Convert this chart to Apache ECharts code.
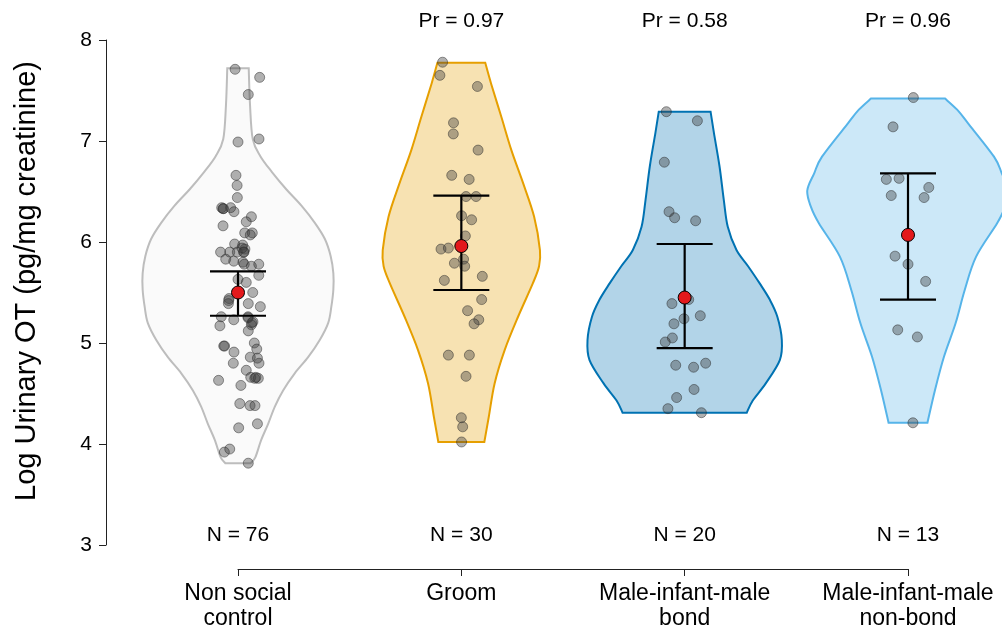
<!DOCTYPE html>
<html><head><meta charset="utf-8">
<script src="https://cdn.jsdelivr.net/npm/echarts@6.0.0/dist/echarts.min.js"></script>
<style>html,body{margin:0;padding:0;background:#fff}#c{width:1002px;height:632px}</style>
</head><body><div id="c"></div>
<script>
const categories = ['Non social\ncontrol', 'Groom', 'Male-infant-male\nbond', 'Male-infant-male\nnon-bond'];
const nLabels = ['N = 76', 'N = 30', 'N = 20', 'N = 13'];
const prLabels = ['', 'Pr = 0.97', 'Pr = 0.58', 'Pr = 0.96'];
const yTicks = [3, 4, 5, 6, 7, 8];

const means = [5.50, 5.96, 5.45, 6.07];
const ciLow = [5.27, 5.525, 4.95, 5.43];
const ciHigh = [5.71, 6.46, 5.98, 6.68];

// observed values and horizontal jitter (in category units)
const g1Values = [7.71,7.63,7.46,6.99,7.02,6.66,6.56,6.44,6.34,6.33,6.34,6.30,6.25,6.20,6.16,6.09,6.09,5.98,5.97,5.90,5.90,5.90,5.93,5.90,5.83,5.81,5.80,5.76,5.78,5.67,5.63,5.60,5.50,5.44,5.39,5.39,5.36,5.26,5.23,5.26,5.21,5.18,5.17,5.12,4.97,5.00,4.94,4.91,4.80,4.86,4.85,4.80,4.73,4.66,4.65,4.65,4.63,4.58,4.40,4.38,4.38,4.16,4.20,3.92,3.95,3.81,6.33,5.90,5.42,5.20,4.97,4.66,5.78,5.94,5.25,6.07];
const g1Jitter = [-0.013,0.097,0.046,0,0.094,-0.009,-0.004,-0.003,-0.073,-0.067,-0.033,-0.018,0.060,0.037,-0.067,0.030,0.064,-0.015,0.021,-0.078,-0.037,-0.003,0.031,0.027,-0.055,-0.019,0.022,0.060,0.093,0.093,0,0.037,0.066,-0.040,-0.043,0.046,0.100,-0.075,-0.019,0.045,0.067,0.060,-0.081,0.046,-0.064,0.073,0.084,-0.018,-0.021,0.055,0.087,0.094,0.037,0.057,0.091,0.075,-0.087,0.013,0.008,0.054,0.076,0.003,0.087,-0.061,-0.037,0.046,-0.065,0.025,-0.042,0.062,-0.060,0.080,0.028,0.018,0.045,0.055];
const g2Values = [7.78,7.65,7.54,7.18,7.07,6.91,6.66,6.62,6.45,6.45,6.26,6.22,6.06,5.93,5.94,5.79,5.83,5.76,5.66,5.62,5.43,5.32,5.23,5.19,4.88,4.88,4.67,4.26,4.17,4.02];
const g2Jitter = [-0.084,-0.096,0.072,-0.035,-0.036,0.075,-0.043,0.035,0.021,0.066,0.001,0.046,0.018,-0.091,-0.058,-0.031,0.010,0.015,0.094,-0.076,0.091,0.028,0.078,0.057,-0.058,0.036,0.021,0,0.006,0.001];
const g3Values = [7.29,7.20,6.79,6.30,6.24,6.21,5.39,5.43,5.27,5.24,5.19,5.05,5.01,4.78,4.76,4.80,4.54,4.46,4.35,4.31];
const g3Jitter = [-0.082,0.057,-0.091,-0.070,-0.045,0.049,-0.057,0.018,0.070,-0.003,-0.048,-0.055,-0.087,-0.040,0.040,0.094,0.042,-0.036,-0.075,0.075];
const g4Values = [7.43,7.14,6.62,6.63,6.54,6.46,6.44,5.86,5.61,5.13,5.06,4.21,5.78];
const g4Jitter = [0.024,-0.067,-0.097,-0.040,0.093,-0.075,0.072,-0.058,0.079,-0.046,0.042,0.022,0];

// violin outlines: density levels (y) and half widths (category units)
const v1Levels = [7.72,7.35,7.02,6.85,6.69,6.52,6.36,6.19,6.03,5.86,5.69,5.53,5.36,5.20,5.03,4.86,4.70,4.53,4.37,4.20,4.04,3.87,3.81];
const v1Width  = [0.048,0.054,0.066,0.100,0.153,0.217,0.284,0.344,0.389,0.415,0.427,0.427,0.418,0.404,0.366,0.314,0.254,0.202,0.165,0.135,0.104,0.078,0.057];
const v2Levels = [7.775,7.57,7.24,6.91,6.58,6.25,5.92,5.76,5.59,5.26,4.93,4.60,4.27,4.02];
const v2Width  = [0.107,0.133,0.179,0.224,0.277,0.326,0.352,0.348,0.320,0.254,0.194,0.149,0.123,0.103];
const v3Levels = [7.29,7.08,6.75,6.42,6.15,5.92,5.76,5.59,5.43,5.26,5.03,4.83,4.60,4.43,4.31];
const v3Width  = [0.116,0.131,0.156,0.175,0.193,0.232,0.284,0.336,0.381,0.415,0.435,0.426,0.363,0.305,0.278];
const v4Levels = [7.42,7.31,7.175,6.845,6.68,6.51,6.35,6.185,5.855,5.525,5.195,4.864,4.535,4.21];
const v4Width  = [0.166,0.220,0.269,0.385,0.420,0.451,0.435,0.399,0.305,0.254,0.213,0.161,0.121,0.087];

const groupValues = [g1Values, g2Values, g3Values, g4Values];
const groupJitter = [g1Jitter, g2Jitter, g3Jitter, g4Jitter];
const violinLevels = [v1Levels, v2Levels, v3Levels, v4Levels];
const violinWidths = [v1Width, v2Width, v3Width, v4Width];

const strokeColors = ['#BDBDBD', '#E69F00', '#0072B2', '#56B4E9'];
const fillColors = ['rgba(238,238,238,0.3)', 'rgba(230,159,0,0.3)', 'rgba(0,114,178,0.3)', 'rgba(86,180,233,0.3)'];
const FONT = '"Liberation Sans", Arial, Helvetica, sans-serif';

const chart = echarts.init(document.getElementById('c'), null, {renderer: 'canvas'});

const pointData = [];
groupValues.forEach((vals, g) => {
  vals.forEach((v, i) => pointData.push([g + 1 + groupJitter[g][i], v]));
});

// Catmull-Rom spline through a side's points as bezier path commands (rendering only)
function splineCmds(pts, t) {
  let s = '';
  const n = pts.length;
  for (let i = 0; i < n - 1; i++) {
    const p0 = pts[Math.max(i - 1, 0)], p1 = pts[i], p2 = pts[i + 1], p3 = pts[Math.min(i + 2, n - 1)];
    const c1x = p1[0] + (p2[0] - p0[0]) * t / 6, c1y = p1[1] + (p2[1] - p0[1]) * t / 6;
    const c2x = p2[0] - (p3[0] - p1[0]) * t / 6, c2y = p2[1] - (p3[1] - p1[1]) * t / 6;
    s += ' C' + c1x.toFixed(2) + ' ' + c1y.toFixed(2) + ' ' + c2x.toFixed(2) + ' ' + c2y.toFixed(2) + ' ' + p2[0].toFixed(2) + ' ' + p2[1].toFixed(2);
  }
  return s;
}

const option = {
  animation: false,
  backgroundColor: '#fff',
  grid: {left: 238, right: 94, top: 40, bottom: 87},
  xAxis: {
    type: 'value', min: 1, max: 4, interval: 1, offset: 24,
    axisLine: {show: true, lineStyle: {color: '#222', width: 1}},
    axisTick: {show: true, length: 7, lineStyle: {color: '#222', width: 1}},
    axisLabel: {
      formatter: v => categories[Math.round(v) - 1] || '',
      fontSize: 23, color: '#000', fontFamily: FONT, margin: 12, lineHeight: 25,
      showMinLabel: true, showMaxLabel: true
    },
    splitLine: {show: false}
  },
  yAxis: {
    type: 'value', min: yTicks[0], max: yTicks[yTicks.length - 1], interval: 1, offset: 132,
    axisLine: {show: true, lineStyle: {color: '#222', width: 1}},
    axisTick: {show: true, length: 7, lineStyle: {color: '#222', width: 1}},
    axisLabel: {fontSize: 21, color: '#000', fontFamily: FONT, margin: 14, showMinLabel: true, showMaxLabel: true},
    splitLine: {show: false}
  },
  graphic: [{
    type: 'text', x: 27, y: 281, rotation: Math.PI / 2,
    style: {text: 'Log Urinary OT (pg/mg creatinine)', fontSize: 29, fontFamily: FONT, fill: '#000',
      align: 'center', verticalAlign: 'middle'}
  }],
  series: [
    {
      type: 'custom', z: 1, clip: false,
      data: [[1, 5], [2, 5], [3, 5], [4, 5]],
      encode: {x: 0, y: 1},
      renderItem: (params, api) => {
        const g = params.dataIndex;
        const lv = violinLevels[g], wd = violinWidths[g];
        const unit = api.size([1, 0])[0];
        const right = [], left = [];
        for (let i = 0; i < lv.length; i++) {
          const p = api.coord([g + 1, lv[i]]);
          right.push([p[0] + wd[i] * unit, p[1]]);
          left.push([p[0] - wd[i] * unit, p[1]]);
        }
        const leftUp = left.slice().reverse();
        let d = 'M' + left[0][0].toFixed(2) + ' ' + left[0][1].toFixed(2);
        d += ' L' + right[0][0].toFixed(2) + ' ' + right[0][1].toFixed(2);
        d += splineCmds(right, 1);
        d += ' L' + leftUp[0][0].toFixed(2) + ' ' + leftUp[0][1].toFixed(2);
        d += splineCmds(leftUp, 1);
        d += ' Z';
        return {
          type: 'path',
          shape: {pathData: d},
          style: {fill: fillColors[g], stroke: strokeColors[g], lineWidth: 2, lineJoin: 'miter'}
        };
      }
    },
    {
      type: 'scatter', z: 2, clip: false, data: pointData, symbol: 'circle', symbolSize: 10,
      itemStyle: {color: 'rgba(60,60,60,0.5)', borderColor: 'rgba(40,40,40,0.6)', borderWidth: 1}
    },
    {
      type: 'custom', z: 3, clip: false,
      data: means.map((m, g) => [g + 1, ciLow[g], ciHigh[g]]),
      encode: {x: 0, y: [1, 2]},
      renderItem: (params, api) => {
        const x = api.value(0);
        const lo = api.coord([x, api.value(1)]);
        const hi = api.coord([x, api.value(2)]);
        const cap = 28;
        const st = {stroke: '#000', lineWidth: 2.2};
        return {
          type: 'group',
          children: [
            {type: 'line', shape: {x1: lo[0], y1: lo[1], x2: hi[0], y2: hi[1]}, style: st},
            {type: 'line', shape: {x1: lo[0] - cap, y1: lo[1], x2: lo[0] + cap, y2: lo[1]}, style: st},
            {type: 'line', shape: {x1: hi[0] - cap, y1: hi[1], x2: hi[0] + cap, y2: hi[1]}, style: st}
          ]
        };
      }
    },
    {
      type: 'scatter', z: 4, clip: false, data: means.map((m, g) => [g + 1, m]), symbol: 'circle', symbolSize: 13,
      itemStyle: {color: '#E3191C', borderColor: '#000', borderWidth: 1, opacity: 1}
    },
    {
      type: 'custom', z: 5, clip: false, silent: true,
      data: [[1, 3.1, 8.19], [2, 3.1, 8.19], [3, 3.1, 8.19], [4, 3.1, 8.19]],
      encode: {x: 0, y: 1},
      renderItem: (params, api) => {
        const g = params.dataIndex;
        const pn = api.coord([api.value(0), api.value(1)]);
        const pp = api.coord([api.value(0), api.value(2)]);
        const ts = {fontSize: 21, fontFamily: FONT, fill: '#000', align: 'center', verticalAlign: 'middle'};
        return {
          type: 'group',
          children: [
            {type: 'text', x: pn[0], y: pn[1], style: Object.assign({text: nLabels[g]}, ts)},
            {type: 'text', x: pp[0], y: pp[1], style: Object.assign({text: prLabels[g]}, ts)}
          ]
        };
      }
    }
  ]
};
chart.setOption(option);
</script>
</body></html>
